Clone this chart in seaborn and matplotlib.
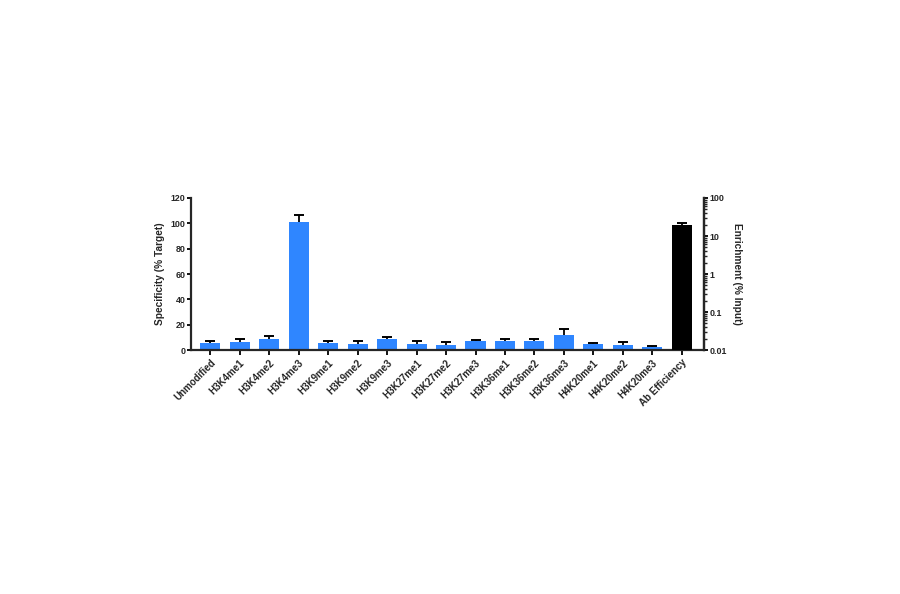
import numpy as np
import pandas as pd
import matplotlib
matplotlib.use("Agg")
import matplotlib.pyplot as plt
import matplotlib.ticker as mticker
import seaborn as sns

categories = ["Unmodified", "H3K4me1", "H3K4me2", "H3K4me3", "H3K9me1", "H3K9me2",
              "H3K9me3", "H3K27me1", "H3K27me2", "H3K27me3", "H3K36me1", "H3K36me2",
              "H3K36me3", "H4K20me1", "H4K20me2", "H4K20me3"]
specificity = [5.6, 6.6, 8.7, 100.9, 5.6, 4.8, 9.0, 5.0, 3.7, 6.9, 7.4, 7.2, 12.2, 4.5, 4.2, 2.6]
specificity_err = [1.8, 1.9, 2.2, 5.9, 1.6, 2.4, 1.3, 2.2, 2.4, 1.0, 1.3, 1.3, 4.2, 1.3, 2.2, 0.6]

eff_category = ["Ab Efficiency"]
eff_value = [19.3]
eff_err = [2.5]

all_cats = categories + eff_category

sns.set_style("ticks")
plt.rcParams["font.family"] = ["Liberation Sans", "DejaVu Sans"]
plt.rcParams["font.weight"] = "bold"

fig = plt.figure(figsize=(9, 5.94), dpi=100)
ax = fig.add_axes([191/900, 1-350/594, (704-191)/900, (350-198)/594])
ax2 = ax.twinx()

df1 = pd.DataFrame({"mark": categories, "val": specificity})
df2 = pd.DataFrame({"mark": eff_category, "val": eff_value})

blue = "#2F86FF"
sns.barplot(data=df1, x="mark", y="val", order=all_cats, color=blue, width=0.68,
            saturation=1, errorbar=None, ax=ax, linewidth=0)

def upper_errorbars(a, x, vals, errs):
    vals = np.asarray(vals, float)
    errs = np.asarray(errs, float)
    a.errorbar(x, vals, yerr=[np.zeros_like(errs), errs], fmt="none",
               ecolor="black", elinewidth=1.3, capsize=0, zorder=3)
    a.plot(x, vals + errs, linestyle="none", marker="_", markersize=7.5,
           markeredgewidth=1.4, color="black", zorder=3)

upper_errorbars(ax, np.arange(len(categories)), specificity, specificity_err)

ax2.set_yscale("log")
sns.barplot(data=df2, x="mark", y="val", order=all_cats, color="black", width=0.68,
            saturation=1, errorbar=None, ax=ax2, linewidth=0)
upper_errorbars(ax2, [len(categories)], eff_value, eff_err)

for a in (ax, ax2):
    a.set_xlim(-0.65, len(all_cats) - 1 + 0.75)

ax.set_ylim(0, 120)
ax.set_yticks([0, 20, 40, 60, 80, 100, 120])
ax2.set_ylim(0.01, 100)
ax2.yaxis.set_major_locator(mticker.LogLocator(base=10, numticks=10))
ax2.yaxis.set_minor_locator(mticker.LogLocator(base=10, subs=np.arange(2, 10), numticks=20))
ax2.yaxis.set_major_formatter(mticker.FuncFormatter(lambda v, p: f"{v:g}"))
ax2.yaxis.set_minor_formatter(mticker.NullFormatter())

ax.set_xticks(np.arange(len(all_cats)))
ax.set_xticklabels(all_cats, rotation=45, ha="right", rotation_mode="anchor",
                   fontsize=7.0, fontweight="bold")
ax.set_xlabel("")
ax2.set_xlabel("")
ax.set_ylabel("Specificity (% Target)", fontsize=7.3, fontweight="bold", labelpad=4)
ax2.set_ylabel("Enrichment (% Input)", fontsize=7.3, fontweight="bold",
               rotation=270, labelpad=11)

for a in (ax, ax2):
    a.spines["top"].set_visible(False)
    for s in a.spines.values():
        s.set_linewidth(1.6)
    a.tick_params(axis="y", which="major", width=1.3, length=3, labelsize=6.4,
                  pad=1, color="black")
    a.tick_params(axis="x", which="major", width=1.3, length=3.5, pad=2, color="black")
    a.tick_params(axis="y", which="minor", width=1.0, length=2)
ax2.spines["left"].set_visible(False)
ax2.spines["bottom"].set_visible(False)
for lab in ax.get_yticklabels() + ax2.get_yticklabels():
    lab.set_fontweight("bold")

fig.savefig("out.png", dpi=100)
